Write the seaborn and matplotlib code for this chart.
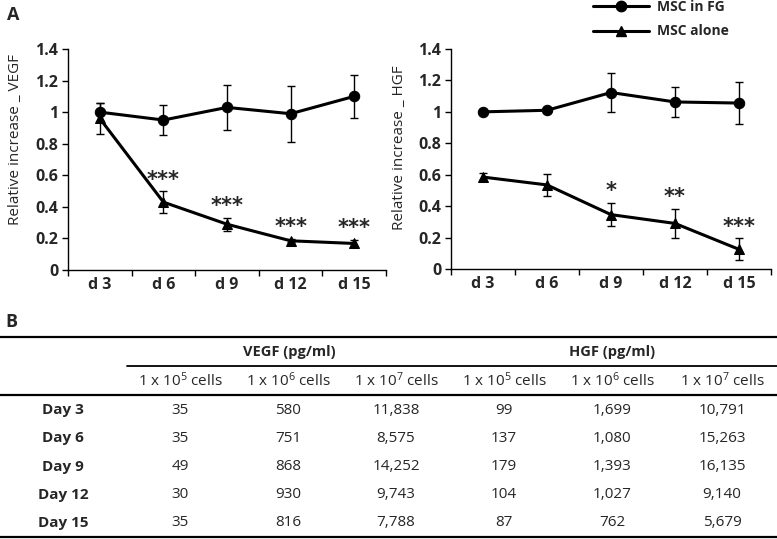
import numpy as np
import pandas as pd
import matplotlib
matplotlib.use('Agg')
import matplotlib.pyplot as plt
from matplotlib.lines import Line2D
import seaborn as sns

days = ['d 3', 'd 6', 'd 9', 'd 12', 'd 15']
groups = ['MSC in FG', 'MSC alone']

vegf_fg = [1.00, 0.95, 1.03, 0.99, 1.10]
vegf_fg_err = [0.055, 0.095, 0.14, 0.178, 0.137]
vegf_alone = [0.96, 0.43, 0.29, 0.185, 0.168]
vegf_alone_err = [0.10, 0.068, 0.042, 0.01, 0.022]
vegf_stars = ['', '***', '***', '***', '***']

hgf_fg = [1.00, 1.01, 1.123, 1.063, 1.056]
hgf_fg_err = [0.008, 0.008, 0.125, 0.095, 0.135]
hgf_alone = [0.585, 0.535, 0.346, 0.29, 0.125]
hgf_alone_err = [0.025, 0.07, 0.073, 0.09, 0.07]
hgf_stars = ['', '', '*', '**', '***']

table_cols = ['1 x 10$^{5}$ cells', '1 x 10$^{6}$ cells', '1 x 10$^{7}$ cells'] * 2
table_rows = ['Day 3', 'Day 6', 'Day 9', 'Day 12', 'Day 15']
table_vals = [
    ['35', '580', '11,838', '99', '1,699', '10,791'],
    ['35', '751', '8,575', '137', '1,080', '15,263'],
    ['49', '868', '14,252', '179', '1,393', '16,135'],
    ['30', '930', '9,743', '104', '1,027', '9,140'],
    ['35', '816', '7,788', '87', '762', '5,679'],
]

sns.set_style('white')
plt.rcParams['font.family'] = ['Open Sans', 'DejaVu Sans']
plt.rcParams['mathtext.default'] = 'regular'

W, H = 777, 539
fig = plt.figure(figsize=(W / 100, H / 100), dpi=100)


def px(x, y):
    return x / W, 1 - y / H


def panel(rect, fg, fg_err, alone, alone_err, stars, ylabel, label_xy):
    ax = fig.add_axes(rect)
    x = np.arange(len(days))
    df = pd.DataFrame({
        'x': np.concatenate([x, x]),
        'y': fg + alone,
        'group': [groups[0]] * len(x) + [groups[1]] * len(x),
    })
    sns.lineplot(data=df, x='x', y='y', hue='group', style='group',
                 markers={'MSC in FG': 'o', 'MSC alone': '^'}, dashes=False,
                 palette={'MSC in FG': 'black', 'MSC alone': 'black'},
                 linewidth=2.2, markersize=7.5, markeredgecolor='black',
                 legend=False, ax=ax, zorder=3)
    ax.errorbar(x, fg, yerr=fg_err, fmt='none', ecolor='black', elinewidth=1,
                capsize=3, zorder=2)
    ax.errorbar(x, alone, yerr=alone_err, fmt='none', ecolor='black', elinewidth=1,
                capsize=3, zorder=2)
    for i, s in enumerate(stars):
        if s:
            ax.text(x[i], alone[i] + alone_err[i] + 0.075, s, ha='center',
                    va='center', fontsize=15, fontweight='bold',
                    family='DejaVu Sans')

    ax.set_xlim(-0.5, len(days) - 0.5)
    ax.set_ylim(0, 1.4)
    ax.set_yticks(np.arange(0, 1.41, 0.2))
    ax.set_yticklabels(['{:g}'.format(round(v, 1)) for v in np.arange(0, 1.41, 0.2)],
                       fontweight='bold', fontsize=11.5)
    ax.set_xticks(np.arange(-0.5, len(days), 1.0))
    ax.set_xticklabels([])
    ax.set_xticks(x, minor=True)
    ax.set_xticklabels(days, minor=True, fontweight='bold', fontsize=11.5)
    ax.tick_params(axis='x', which='minor', length=0, pad=5)
    ax.tick_params(axis='both', which='major', length=4, width=1, color='black',
                   direction='out', pad=3)
    ax.tick_params(axis='y', left=True)
    ax.tick_params(axis='x', bottom=True)
    sns.despine(ax=ax)
    for sp in ('left', 'bottom'):
        ax.spines[sp].set_color('black')
        ax.spines[sp].set_linewidth(1)
    ax.set_xlabel('')
    ax.set_ylabel(ylabel, fontsize=11)
    ax.yaxis.set_label_coords(*label_xy)
    ax.grid(False)
    return ax


ax1 = panel([68 / W, 1 - 270 / H, 318 / W, 221 / H], vegf_fg, vegf_fg_err,
            vegf_alone, vegf_alone_err, vegf_stars, 'Relative increase _ VEGF',
            (-0.142, 0.59))
ax2 = panel([451 / W, 1 - 269 / H, 320 / W, 220 / H], hgf_fg, hgf_fg_err,
            hgf_alone, hgf_alone_err, hgf_stars, 'Relative increase _ HGF',
            (-0.137, 0.55))

handles = [Line2D([], [], color='black', lw=2.2, marker='o', markersize=7.5),
           Line2D([], [], color='black', lw=2.2, marker='^', markersize=7.5)]
leg = fig.legend(handles, groups, loc='upper left', bbox_to_anchor=px(593, 0),
                 frameon=False, handlelength=4, handletextpad=0.6, labelspacing=0.75,
                 borderpad=0, borderaxespad=0, prop={'weight': 'bold', 'size': 10})

fig.text(*px(7, 15), 'A', fontsize=13, fontweight='bold', va='center', ha='left')
fig.text(*px(5, 322), 'B', fontsize=13, fontweight='bold', va='center', ha='left')

# table
for y, x0, lw in [(337, 0, 1.6), (366, 127, 1.3), (395, 0, 1.6), (537, 0, 1.6)]:
    fig.add_artist(Line2D([x0 / W, 1], [1 - y / H] * 2, color='black', lw=lw))

fig.text(*px(289, 352), 'VEGF (pg/ml)', ha='center', va='center', fontsize=10.5,
         fontweight='bold')
fig.text(*px(612, 352), 'HGF (pg/ml)', ha='center', va='center', fontsize=10.5,
         fontweight='bold')
col_x = [180, 288, 396, 504, 612, 722]
row_y = [410, 438, 467, 495, 523]
for cx, c in zip(col_x, table_cols):
    fig.text(*px(cx, 381), c, ha='center', va='center', fontsize=11)
for ry, r, vals in zip(row_y, table_rows, table_vals):
    fig.text(*px(63, ry), r, ha='center', va='center', fontsize=11,
             fontweight='bold')
    for cx, v in zip(col_x, vals):
        fig.text(*px(cx, ry), v, ha='center', va='center', fontsize=11)

fig.savefig('out.png', dpi=100)
